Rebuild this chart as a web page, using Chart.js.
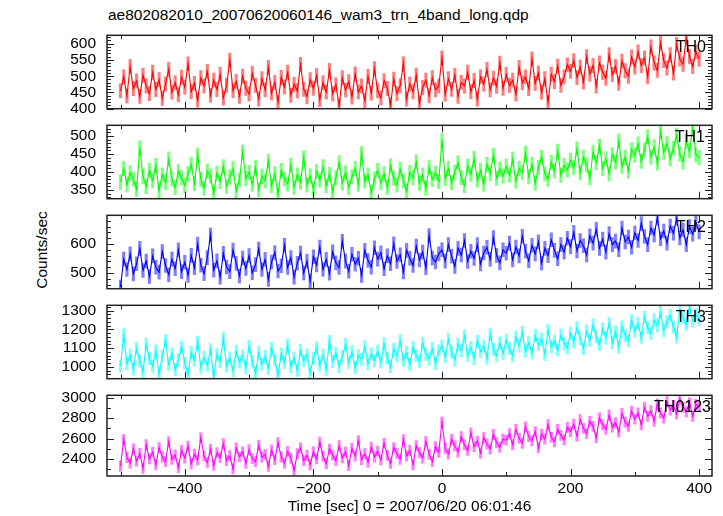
<!DOCTYPE html>
<html>
<head>
<meta charset="utf-8">
<script src="https://cdn.jsdelivr.net/npm/chart.js@4.4.1/dist/chart.umd.min.js"></script>
<style>
  body { margin: 0; background: #fff; }
  #wrap { position: relative; width: 723px; height: 516px; overflow: hidden;
          font-family: "Liberation Sans", Arial, sans-serif; color: #000; }
  #wrap canvas { position: absolute; left: 0; }
  .title { position: absolute; left: 108px; top: 7px; font-size: 15.5px; line-height: 15px; white-space: nowrap; }
  .ylab { position: absolute; left: 42px; top: 250px; font-size: 15.5px; line-height: 16px; white-space: nowrap;
          transform: translate(-50%, -50%) rotate(-90deg); }
</style>
</head>
<body>
<div id="wrap">
  <div class="title">ae802082010_20070620060146_wam3_trn_4band_long.qdp</div>
  <div class="ylab">Counts/sec</div>
</div>
<script>
'use strict';

// light curve bins (5 s sampling, t = -500 ... 400)
const tStart = -500;
const tStep = 5;

const th0 = [
  455, 498, 440, 530, 462, 485, 438, 503, 470, 447, 512, 459, 489, 432, 476, 521, 451, 480, 443, 497,
  466, 538, 452, 478, 427, 495, 470, 515, 441, 488, 459, 505, 433, 472, 549, 456, 484, 438, 500, 463,
  445, 509, 472, 430, 492, 458, 527, 448, 481, 420, 496, 467, 512, 441, 475, 455, 536, 460, 437, 489,
  463, 502, 428, 480, 451, 518, 446, 474, 409, 495, 458, 483, 436, 507, 452, 470, 425, 499, 448, 523,
  455, 433, 486, 462, 412, 491, 447, 470, 538, 430, 476, 452, 503, 418, 465, 488, 440, 495, 458, 470,
  556, 445, 492, 460, 503, 438, 481, 470, 512, 452, 487, 430, 498, 476, 521, 458, 494, 469, 540, 463,
  505, 472, 488, 445, 527, 480, 498, 462, 553, 478, 510, 451, 492, 420, 506, 484, 531, 472, 498, 535,
  515, 548, 496, 528, 482, 560, 507, 533, 470, 541, 512, 494, 566, 505, 530, 478, 546, 517, 500, 559,
  528, 575, 533, 556, 498, 590, 541, 518, 602, 548, 525, 566, 510, 598, 553, 537, 618, 560, 530, 575,
  552
];

const th1 = [
  372, 410, 365, 398, 381, 352, 467, 388, 360, 404, 376, 418, 349, 392, 371, 436, 380, 357, 401, 384,
  363, 395, 421, 368, 447, 379, 355, 402, 389, 341, 397, 374, 415, 360, 386, 409, 348, 378, 455, 382,
  399, 366, 412, 351, 388, 376, 430, 362, 395, 338, 404, 381, 367, 419, 358, 392, 372, 440, 364, 389,
  353, 401, 378, 415, 362, 393, 346, 384, 426, 370, 398, 357, 387, 410, 366, 451, 375, 392, 343, 381,
  404, 371, 395, 358, 417, 383, 364, 408, 376, 347, 399, 385, 428, 369, 392, 355, 413, 380, 397, 374,
  488, 382, 410, 371, 399, 426, 385, 362, 417, 394, 438, 378, 405, 367, 421, 396, 447, 383, 408, 389,
  416, 392, 436, 375, 410, 399, 452, 387, 421, 369, 413, 441, 395, 380, 427, 403, 458, 391, 418, 406,
  433, 412, 465, 398, 441, 420, 384, 455, 426, 472, 410, 437, 395, 448, 428, 486, 416, 441, 403, 462,
  447, 478, 430, 462, 498, 441, 470, 425, 512, 455, 480, 437, 466, 502, 450, 428, 485, 459, 523, 448,
  440
];

const th2 = [
  452, 548, 512, 566, 497, 532, 585, 509, 541, 488, 559, 520, 503, 574, 526, 494, 548, 515, 580, 505,
  537, 492, 561, 518, 600, 527, 498, 553, 631, 510, 542, 486, 568, 521, 505, 579, 533, 490, 552, 516,
  560, 501, 529, 583, 512, 547, 478, 538, 571, 507, 525, 596, 519, 553, 486, 534, 569, 500, 541, 472,
  556, 528, 590, 512, 547, 499, 573, 535, 519, 609, 541, 506, 565, 530, 551, 492, 578, 543, 520, 587,
  548, 570, 515, 559, 532, 601, 540, 563, 504, 578, 551, 526, 593, 545, 572, 518, 629, 552, 538, 566,
  580, 541, 598, 558, 523, 585, 562, 612, 540, 575, 550, 598, 531, 569, 589, 547, 622, 561, 535, 580,
  568, 603, 545, 590, 559, 627, 575, 542, 596, 566, 608, 534, 585, 560, 615, 578, 549, 598, 572, 620,
  591, 640, 576, 612, 594, 562, 628, 603, 651, 585, 617, 572, 636, 598, 610, 580, 655, 607, 624, 589,
  638, 612, 671, 626, 598, 655, 631, 690, 618, 645, 603, 662, 637, 688, 621, 649, 598, 660, 634, 675,
  642
];

const th3 = [
  1005, 1170, 1018, 1062, 990, 1098, 1031, 975, 1120, 1044, 1003, 1085, 962, 1058, 1140, 1012, 1070, 986, 1039, 1105,
  1021, 960, 1077, 1035, 1132, 998, 1052, 1009, 1091, 948, 1066, 1028, 1150, 1005, 1047, 979, 1083, 1026, 1060, 996,
  1112, 1030, 968, 1075, 1014, 1056, 992, 1098, 1037, 955, 1069, 1022, 1116, 1001, 1048, 982, 1087, 1033, 1064, 970,
  1045, 1102, 1011, 1063, 987, 1135, 1029, 1074, 1002, 1056, 1120, 1023, 1081, 995, 1060, 1041, 1108, 1017, 1069, 1033,
  1082, 1026, 1123, 1047, 1001, 1094, 1058, 1140, 1035, 1077, 1012, 1103, 1061, 1030, 1126, 1068, 1043, 1098, 1020, 1085,
  1112, 1054, 1148, 1079, 1036, 1121, 1088, 1165, 1062, 1104, 1045, 1137, 1082, 1110, 1048, 1175, 1093, 1060, 1128, 1071,
  1142, 1098, 1058, 1160, 1112, 1184, 1083, 1130, 1075, 1167, 1118, 1148, 1066, 1196, 1107, 1139, 1090, 1171, 1125, 1102,
  1178, 1135, 1210, 1150, 1098, 1192, 1143, 1225, 1161, 1120, 1203, 1155, 1232, 1129, 1186, 1107, 1214, 1168, 1140, 1247,
  1190, 1232, 1158, 1267, 1209, 1178, 1251, 1220, 1290, 1195, 1241, 1274, 1212, 1160, 1305, 1262, 1228, 1318, 1244, 1280,
  1256
];

const th0123 = [
  2330, 2590, 2415, 2362, 2498, 2380, 2455, 2310, 2540, 2402, 2468, 2345, 2512, 2420, 2375, 2570, 2398, 2440, 2318, 2485,
  2410, 2527, 2355, 2448, 2392, 2610, 2430, 2368, 2495, 2340, 2462, 2415, 2550, 2386, 2433, 2305, 2508, 2422, 2470, 2360,
  2492, 2405, 2375, 2535, 2418, 2446, 2330, 2488, 2395, 2561, 2420, 2360, 2475, 2408, 2290, 2452, 2510, 2384, 2438, 2345,
  2470, 2402, 2565, 2428, 2355, 2497, 2440, 2385, 2530, 2412, 2468, 2338, 2505, 2430, 2580, 2395, 2452, 2370, 2515, 2420,
  2478, 2392, 2555, 2436, 2360, 2512, 2455, 2398, 2590, 2430, 2485, 2345, 2530, 2462, 2410, 2572, 2448, 2375, 2520, 2466,
  2760, 2505, 2450, 2592, 2528, 2470, 2618, 2540, 2485, 2655, 2522, 2575, 2460, 2610, 2548, 2498, 2640, 2560, 2515, 2595,
  2585, 2648, 2540, 2690, 2602, 2555, 2715, 2620, 2580, 2668, 2510, 2642, 2596, 2735, 2615, 2570, 2690, 2632, 2588, 2710,
  2668, 2740, 2625, 2785, 2700, 2650, 2768, 2720, 2610, 2802, 2735, 2690, 2830, 2712, 2755, 2665, 2845, 2760, 2720, 2868,
  2790, 2850, 2735, 2905, 2818, 2872, 2770, 2935, 2850, 2800, 2960, 2878, 2925, 2840, 2990, 2905, 2862, 2950, 2818, 2935,
  2910
];

const bandNames = ['TH0', 'TH1', 'TH2', 'TH3', 'TH0123'];
const bandSeries = [th0, th1, th2, th3, th0123];
// typical 1-sigma error bar per band (counts/sec)
const bandErr = [22, 20, 24, 33, 50];

// axis ranges and tick steps per panel
const xRange = [-521, 420];
const xMajor = 200;
const xMinor = 100;
const yRanges = [[400, 626], [326, 530], [446, 699], [937, 1329], [2235, 3023]];
const yMajor = [50, 50, 100, 100, 200];
const yMinor = [10, 10, 20, 20, 100];

// look
const bandColors = ['#ff0000', '#00ff00', '#0000ff', '#00ffff', '#ff00ff'];
const errColors = ['rgba(255,0,0,0.5)', 'rgba(0,255,0,0.5)', 'rgba(0,0,255,0.5)',
                   'rgba(0,255,255,0.5)', 'rgba(255,0,255,0.5)'];
const labelRight = [706, 705, 706, 706, 711];
const FONT = '"Liberation Sans", Arial, sans-serif';
const PLOT_LEFT = 107;
const PLOT_RIGHT = 712;
const PLOT_TOP = 27;
const PANEL_H = 90;
const PAD = 12;
const XAXIS_H = 40;
const W = 723, H = 516;

const times = th0.map((_, i) => tStart + i * tStep);

Chart.defaults.font.family = FONT;
Chart.defaults.font.size = 15;
Chart.defaults.color = '#000';

// tick values: every multiple of step inside [min, max]
function stepTicks(min, max, step) {
    const out = [];
    for (let k = Math.ceil(min / step); k * step <= max; k++) {
        out.push({value: k * step});
    }
    return out;
}

/**
 * Frame around each panel, inward tick marks on all four sides and the band name.
 */
const framePlugin = {
    id: 'frame',
    afterDatasetsDraw(chart, args, opts) {
        const ctx = chart.ctx;
        const a = chart.chartArea;
        const x = chart.scales.x;
        const y = chart.scales.y;
        ctx.save();
        ctx.strokeStyle = '#222';
        ctx.lineWidth = 1;
        ctx.beginPath();
        stepTicks(y.min, y.max, opts.yMinor).forEach(t => {
            const py = Math.round(y.getPixelForValue(t.value)) + 0.5;
            const len = t.value % opts.yMajor === 0 ? 7 : 4;
            ctx.moveTo(a.left, py); ctx.lineTo(a.left + len, py);
            ctx.moveTo(a.right, py); ctx.lineTo(a.right - len, py);
        });
        stepTicks(x.min, x.max, xMinor).forEach(t => {
            const px = Math.round(x.getPixelForValue(t.value)) + 0.5;
            const len = t.value % xMajor === 0 ? 7 : 4;
            ctx.moveTo(px, a.top); ctx.lineTo(px, a.top + len);
            ctx.moveTo(px, a.bottom); ctx.lineTo(px, a.bottom - len);
        });
        ctx.stroke();
        ctx.lineWidth = 1.5;
        ctx.strokeRect(a.left, a.top, a.right - a.left, a.bottom - a.top);
        ctx.fillStyle = '#000';
        ctx.font = '16px ' + FONT;
        ctx.textAlign = 'right';
        ctx.textBaseline = 'alphabetic';
        ctx.fillText(opts.label, opts.labelRight, a.top + 16.5);
        ctx.restore();
    }
};

function plotPanel(i) {
    const last = i === bandNames.length - 1;
    const top = PLOT_TOP + i * PANEL_H - PAD;
    const height = last ? H - top : PANEL_H + 2 * PAD;
    const vals = bandSeries[i];

    const canvas = document.createElement('canvas');
    canvas.width = W;
    canvas.height = height;
    canvas.style.top = top + 'px';
    document.getElementById('wrap').appendChild(canvas);

    return new Chart(canvas, {
        type: 'line',
        data: {
            datasets: [{
                data: times.map((t, k) => ({x: t, y: vals[k]})),
                borderColor: bandColors[i],
                borderWidth: 1.1,
                pointRadius: 0,
                tension: 0,
                order: 0
            }, {
                // error bars as thin floating bars
                type: 'bar',
                data: times.map((t, k) => ({x: t, y: [vals[k] - bandErr[i], vals[k] + bandErr[i]]})),
                backgroundColor: errColors[i],
                borderWidth: 0,
                barThickness: 2.5,
                order: 1
            }]
        },
        options: {
            responsive: false,
            animation: false,
            devicePixelRatio: 1,
            events: [],
            layout: {padding: {left: 0, right: W - PLOT_RIGHT, top: PAD, bottom: last ? 0 : PAD}},
            plugins: {
                legend: {display: false},
                tooltip: {enabled: false},
                frame: {
                    label: bandNames[i],
                    labelRight: labelRight[i],
                    yMajor: yMajor[i],
                    yMinor: yMinor[i]
                }
            },
            scales: {
                x: {
                    type: 'linear',
                    display: last,
                    offset: false,
                    min: xRange[0],
                    max: xRange[1],
                    grid: {display: false, drawTicks: false, offset: false},
                    border: {display: false},
                    ticks: {
                        autoSkip: false,
                        maxRotation: 0,
                        padding: 3,
                        font: {size: 15.5},
                        callback: v => String(v).replace('-', '\u2212')
                    },
                    title: {
                        display: true,
                        text: 'Time [sec] 0 = 2007/06/20 06:01:46',
                        font: {size: 15.5},
                        padding: {top: 0, bottom: 0}
                    },
                    afterBuildTicks: s => { s.ticks = stepTicks(xRange[0], xRange[1], xMajor); },
                    afterFit: s => { if (last) s.height = XAXIS_H; }
                },
                y: {
                    min: yRanges[i][0],
                    max: yRanges[i][1],
                    grid: {display: false, drawTicks: false},
                    border: {display: false},
                    ticks: {
                        autoSkip: false,
                        padding: 11,
                        font: {size: 15.5},
                        callback: v => String(v)
                    },
                    afterBuildTicks: s => { s.ticks = stepTicks(yRanges[i][0], yRanges[i][1], yMajor[i]); },
                    afterFit: s => { s.width = PLOT_LEFT; }
                }
            }
        },
        plugins: [framePlugin]
    });
}

bandNames.forEach((_, i) => plotPanel(i));
</script>
</body>
</html>
